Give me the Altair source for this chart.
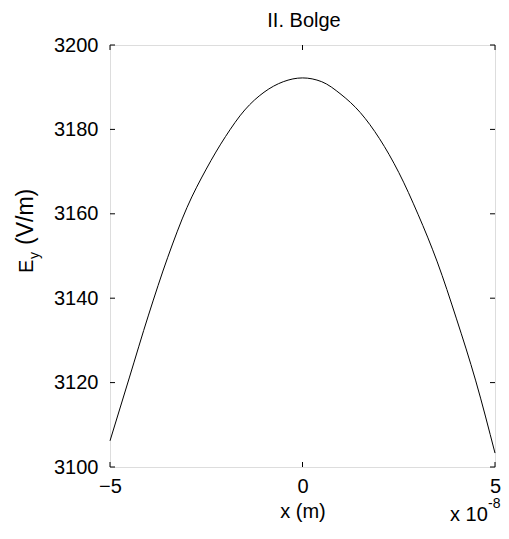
import altair as alt
import pandas as pd

# ---- data ----
x_vals = [-5.0, -4.5, -4.0, -3.5, -3.0, -2.5, -2.0, -1.5, -1.0, -0.5, 0.0,
          0.5, 1.0, 1.5, 2.0, 2.5, 3.0, 3.5, 4.0, 4.5, 5.0]
ey_vals = [3106.2, 3121.1, 3136.0, 3149.7, 3161.5, 3170.6, 3178.3, 3184.6, 3188.8, 3191.3, 3192.2,
           3191.3, 3188.3, 3184.0, 3177.8, 3169.8, 3159.9, 3148.6, 3135.1, 3120.4, 3103.3]
y_ticks = [3100, 3120, 3140, 3160, 3180, 3200]
x_ticks = [-5, 0, 5]

title_text = "II. Bolge"
xlabel_text = "x (m)"
ylabel_main = "E"
ylabel_sub = "y"
ylabel_rest = "(V/m)"
exp_base = "x 10"
exp_power = "-8"

W, H = 385, 422
FONT = "Liberation Sans"
FS = 20

curve = pd.DataFrame({"x": x_vals, "ey": ey_vals})
yt = pd.DataFrame({"t": y_ticks})
xt = pd.DataFrame({"t": x_ticks})

xscale = alt.Scale(domain=[-5, 5], nice=False, zero=False)
yscale = alt.Scale(domain=[3100, 3200], nice=False, zero=False)

xaxis = alt.Axis(values=x_ticks, ticks=False, domain=False, grid=False, format="d",
                 labelFontSize=FS, labelFont=FONT, labelColor="black",
                 labelPadding=9, labelFlush=False, labelOverlap=False, title="")
yaxis = alt.Axis(values=y_ticks, ticks=False, domain=False, grid=False, format="d",
                 labelFontSize=FS, labelFont=FONT, labelColor="black",
                 labelPadding=12, labelOverlap=False, title="")

line = alt.Chart(curve).mark_line(color="black", strokeWidth=1, interpolate="monotone").encode(
    x=alt.X("x:Q", scale=xscale, axis=xaxis),
    y=alt.Y("ey:Q", scale=yscale, axis=yaxis),
)

left_ticks = alt.Chart(yt).mark_rule(color="black", strokeWidth=1).encode(
    y=alt.Y("t:Q", scale=yscale, axis=yaxis), x=alt.value(0), x2=alt.value(5))
right_ticks = alt.Chart(yt).mark_rule(color="black", strokeWidth=1).encode(
    y=alt.Y("t:Q", scale=yscale, axis=yaxis), x=alt.value(W - 5), x2=alt.value(W))
bottom_ticks = alt.Chart(xt).mark_rule(color="black", strokeWidth=1).encode(
    x=alt.X("t:Q", scale=xscale, axis=xaxis), y=alt.value(H - 5), y2=alt.value(H))
top_ticks = alt.Chart(xt).mark_rule(color="black", strokeWidth=1).encode(
    x=alt.X("t:Q", scale=xscale, axis=xaxis), y=alt.value(0), y2=alt.value(5))


def label(text, x, y, size=FS, align="center", angle=0, baseline="alphabetic"):
    kw = dict(font=FONT, fontSize=size, color="black", align=align, baseline=baseline)
    if angle:
        kw["angle"] = angle
    return alt.Chart(pd.DataFrame({"s": [text]})).mark_text(**kw).encode(
        text="s:N", x=alt.value(x), y=alt.value(y))


texts = [
    label(title_text, 194, -18),
    label(xlabel_text, 193, 473),
    label(exp_base, 340, 476, align="left"),
    label(exp_power, 378, 463, size=14, align="left"),
    label(ylabel_main, -77, 228, align="left", angle=270),
    label(ylabel_sub, -71, 214, size=14, align="left", angle=270),
    label(ylabel_rest, -77, 200, size=23, align="left", angle=270),
]

chart = alt.layer(line, left_ticks, right_ticks, bottom_ticks, top_ticks, *texts).properties(
    width=W, height=H,
    autosize=alt.AutoSizeParams(type="none"),
    padding={"left": 102, "top": 37, "right": 6, "bottom": 59},
).configure_view(stroke="black", strokeWidth=1).configure(background="white")

chart.save("out.html", embed_options={"renderer": "svg", "actions": False})
